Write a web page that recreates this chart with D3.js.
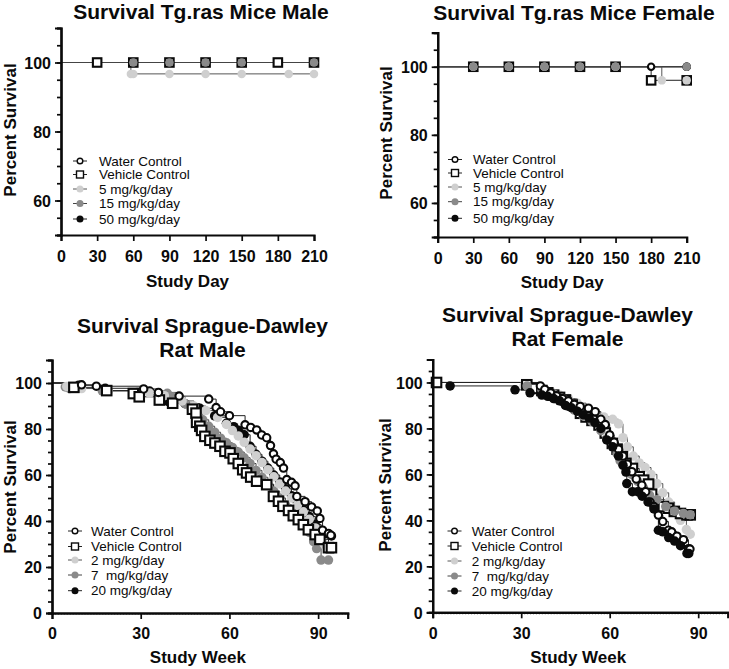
<!DOCTYPE html>
<html><head><meta charset="utf-8">
<script src="https://cdn.jsdelivr.net/npm/d3@7"></script>
<style>body{margin:0;background:#fff} text{font-family:"Liberation Sans",Arial,sans-serif;fill:#0a0a0a}</style>
</head><body><svg id="c" width="729" height="669"></svg>
<script>
// ---------- labels ----------
const miceLabels = ["Water Control","Vehicle Control","5 mg/kg/day","15 mg/kg/day","50 mg/kg/day"];
const ratLabels = ["Water Control","Vehicle Control","2 mg/kg/day","7  mg/kg/day","20 mg/kg/day"];
const miceXTicks = [0,30,60,90,120,150,180,210];
const miceYTicks = [60,80,100];
const ratXTicks = [0,30,60,90];
const ratYTicks = [0,20,40,60,80,100];
const titles = ["Survival Tg.ras Mice Male","Survival Tg.ras Mice Female",
  ["Survival Sprague-Dawley","Rat Male"],["Survival Sprague-Dawley","Rat Female"]];

// ---------- data: [time, percent survival] ----------
const miceMaleWater   = [[0,100],[30,100],[60,100],[90,100],[120,100],[150,100],[180,100],[210,100]];
const miceMaleVehicle = [[0,100],[30,100],[60,100],[90,100],[120,100],[150,100],[180,100],[210,100]];
const miceMale5   = [[0,100],[58,96.7],[60,96.7],[90,96.7],[120,96.7],[150,96.7],[189,96.7],[210,96.7]];
const miceMale15  = [[0,100],[60,100],[90,100],[120,100],[150,100],[210,100]];
const miceMale50  = [[0,100],[60,100],[90,100],[120,100],[150,100],[210,100]];

const miceFemWater   = [[0,100],[30,100],[60,100],[90,100],[120,100],[150,100],[180,100],[210,100]];
const miceFemVehicle = [[0,100],[30,100],[60,100],[90,100],[120,100],[150,100],[180,96],[210,96]];
const miceFem5   = [[0,100],[30,100],[60,100],[90,100],[120,100],[150,100],[189,96],[210,96]];
const miceFem15  = [[0,100],[30,100],[60,100],[90,100],[120,100],[150,100],[210,100]];
const miceFem50  = [[0,100],[30,100],[60,100],[90,100],[120,100],[150,100],[210,100]];

const ratMaleWater = [[0,100],[10,99.2],[15,98.6],[31,97.4],[36,95.9],[43,94.3],[53,93],[55.5,89.3],[57,87.5],[60,85.8],[65.3,81.8],[67.2,80.7],[69.2,79.6],[70.9,77.4],[72.6,76.2],[73.9,72.8],[74.9,69.2],[75.8,66.9],[77.2,65.4],[78.3,63],[79.4,58],[81,56.8],[82.2,55.3],[82.8,50.7],[85.6,48.4],[87.8,46.1],[89.7,44.4],[90.6,41.1],[91.5,36],[93.5,34.6],[94.3,33.8]];
const ratMaleVehicle = [[0,100],[7.4,98.1],[18.5,96.7],[27.5,95.4],[29.5,94],[36.3,92.6],[40.8,91.2],[47.5,88.6],[48.7,86.9],[48.9,82.9],[50,81.2],[50.6,79.4],[51.7,76.8],[53.4,75.1],[55.1,73.9],[56.8,72.5],[58.5,70.3],[60.2,69.6],[61.3,67.1],[63,65],[64.5,62.3],[65.8,60.9],[67.2,59.1],[69.2,57.3],[72.6,55.8],[74.9,50.7],[76.6,48.6],[78.1,46.4],[80,44.6],[81.6,42.3],[83.3,40.6],[85,38.4],[86.7,36.2],[89,34.1],[90.6,32],[93.5,28.4],[94.5,28.4]];
const ratMale2 = [[0,100],[5,98.5],[10,97.6],[19,96.6],[33,95.6],[38,94.5],[44,92.2],[48,90],[52,88],[56,85],[59,82],[61,79.3],[63,77],[65,74.2],[67,71.3],[69,68.4],[71,65.4],[73,62.3],[75,59.2],[77,56.1],[79,53],[81,50],[83,47],[85,44],[87,40.8],[89,37],[90.5,33],[92,30],[93,29]];
const ratMale7 = [[0,100],[4.5,98.3],[6,97.6],[17,96.6],[29,96],[39,95.5],[41,94],[45,91],[47,89.4],[49,87],[51,84],[53,81.2],[55,78.6],[57,76],[59,74],[61,72],[63,70],[65,67.5],[67,65],[69,62],[71,59],[73,56],[75,53],[77,50],[79,47],[81,44.5],[83,42],[85,39],[87,35],[88.5,31],[89.5,28],[91,23],[93.5,23]];
const ratMale20 = [[0,100],[9,99],[18,97.7],[33,96.5],[38,94.5],[39.2,92],[45,91],[50,89],[55,85.7],[59,82.5],[61.5,81],[63,79.5],[65,77.5],[67,72.5],[69,69],[71,66],[73,63],[75,60],[77,57],[79,54],[81,51],[83,48],[85,45],[87,42],[89,38.5],[91,36],[93,34.5],[94.5,33.5]];

const ratFemWater = [[0,100],[36.5,98.5],[38,97],[40,95.5],[42,94.2],[44,93],[46,92],[48,90.5],[50,89.6],[52.8,88.8],[55.1,87.3],[57,84],[58.5,81.7],[60,77.2],[61.5,74],[63,71],[64.5,68],[66,64.5],[67.5,61.2],[69,58],[70.9,55.3],[72.2,52.5],[73.7,48],[75,46],[76.5,42.3],[78,39.5],[79.9,35.7],[81,35],[82.8,33.1],[85,31.6],[86.7,27.7],[87.2,27.5]];
const ratFemVehicle = [[0,100],[1.3,100],[31.9,99],[34.7,97.4],[37,96.5],[39,95.5],[41,94.5],[43,93.5],[45,92.4],[47.3,90.2],[50.1,86.6],[52,85],[54,83.5],[56.4,81.5],[58.5,78],[60.9,73.5],[62.5,71],[64.3,67.7],[65.5,64.8],[67.7,62.6],[70,59],[71.5,57.5],[73.2,55.8],[74.2,51.4],[78.2,46],[79.9,45.3],[81.9,43.9],[84,43],[86.2,42.4],[87.3,42.4]];
const ratFem2 = [[0,100],[31,98.5],[36,97.5],[40,96],[43,94.5],[46,93],[49,91],[52,88.5],[55,86.5],[58,85],[61,84],[63,82],[64.5,76],[66,72],[68,68],[70,65],[72,63],[74,60],[76,56],[78,52],[80,48],[82,44],[84,40],[86,36],[87.3,34]];
const ratFem7 = [[0,100],[32,98.5],[37,97],[41,95],[44,93],[46.5,91],[48,88],[51,85.5],[54,83],[57,79],[59,75.5],[61,72],[62.5,69],[63.5,66],[65.5,63],[67.5,60],[69.5,57],[71.5,54],[73.5,51],[76,49],[79,46],[82,44],[85,43],[87.3,42.5]];
const ratFem20 = [[0,100],[5.9,98.5],[27.9,96.8],[33,95.5],[37,94.5],[39,94],[41,93],[43,92],[45,90],[47,89],[49,87.5],[51,86],[53,84.5],[55,82.5],[57,80],[59,75],[61,72],[63,68],[64.5,64],[65.5,61],[65.8,56],[67.7,52.5],[69.5,52.5],[71,50.5],[73,48],[75,45],[76.5,35.7],[78,35],[80,32.5],[82,31],[84,29],[86.2,25.6],[86.8,25.6]];

// ---------- styles ----------
const styles = {
  water:   {shape:"circle", fill:"#fff", stroke:"#0a0a0a", line:"#222"},
  vehicle: {shape:"square", fill:"#fff", stroke:"#0a0a0a", line:"#222"},
  low:     {shape:"circle", fill:"#cfcfcf", stroke:"#cfcfcf", line:"#555"},
  mid:     {shape:"circle", fill:"#8a8a8a", stroke:"#8a8a8a", line:"#444"},
  high:    {shape:"circle", fill:"#0a0a0a", stroke:"#0a0a0a", line:"#222"}
};

const svg = d3.select("#c");

function marker(g, st, cx, cy, size, sw) {
  if (st.shape === "square") {
    g.append("rect").attr("x", cx - size/2).attr("y", cy - size/2).attr("width", size).attr("height", size)
      .attr("fill", st.fill).attr("stroke", st.stroke).attr("stroke-width", sw);
  } else {
    const open = st.fill === "#fff";
    g.append("circle").attr("cx", cx).attr("cy", cy).attr("r", open ? size/2 - sw/2 : size/2)
      .attr("fill", st.fill).attr("stroke", open ? st.stroke : "none").attr("stroke-width", sw);
  }
}

function panel(cfg) {
  const g = svg.append("g");
  const x = d3.scaleLinear().domain(cfg.xDomain).range([cfg.x0, cfg.x1]);
  const y = d3.scaleLinear().domain(cfg.yDomain).range([cfg.y0, cfg.y1]);

  const tl = Array.isArray(cfg.title) ? cfg.title : [cfg.title];
  tl.forEach((t, i) => g.append("text").attr("x", cfg.tx).attr("y", cfg.ty + i * 24)
    .attr("text-anchor", "middle").attr("font-size", 21).attr("font-weight", "bold").text(t));

  const line = d3.line().x(d => x(d[0])).y(d => y(d[1])).curve(d3.curveStepAfter);
  cfg.series.forEach(s => {
    const st = styles[s.style];
    g.append("path").attr("d", line(s.data)).attr("fill", "none").attr("stroke", st.line).attr("stroke-width", 1);
  });
  cfg.series.forEach(s => {
    const st = styles[s.style];
    const mg = g.append("g");
    s.data.forEach((d, i) => {
      if (i === 0) return;
      marker(mg, st, x(d[0]), y(d[1]), cfg.msize, cfg.msw);
    });
  });

  const yAxisMinor = d3.axisLeft(y).tickValues(d3.range(cfg.yDomain[0], cfg.yDomain[1] + 0.1, 5)).tickSize(4).tickFormat("");
  const yAxis = d3.axisLeft(y).tickValues(cfg.yTicks).tickSize(6).tickPadding(4);
  const ya = g.append("g").attr("transform", `translate(${cfg.x0},0)`);
  ya.call(yAxisMinor);
  const yb = g.append("g").attr("transform", `translate(${cfg.x0},0)`).call(yAxis);
  [ya, yb].forEach(a => {
    a.selectAll(".domain").attr("stroke", "#0a0a0a").attr("stroke-width", 2.2);
    a.selectAll(".tick line").attr("stroke", "#0a0a0a").attr("stroke-width", 1.7);
  });
  yb.selectAll("text").attr("font-size", 16).attr("font-weight", "bold").attr("fill", "#0a0a0a")
    .attr("font-family", "Liberation Sans, Arial, sans-serif").attr("dy", "0.36em");

  if (cfg.xMinor) {
    const xm = g.append("g").attr("transform", `translate(0,${cfg.y0})`)
      .call(d3.axisBottom(x).tickValues(d3.range(cfg.xDomain[0], cfg.xDomain[1] + 0.1, cfg.xMinor)).tickSize(2).tickFormat(""));
    xm.selectAll(".domain").attr("stroke", "#0a0a0a").attr("stroke-width", 2.2);
    xm.selectAll(".tick line").attr("stroke", "#555").attr("stroke-width", 1);
  }
  const xa = g.append("g").attr("transform", `translate(0,${cfg.y0})`);
  xa.call(d3.axisBottom(x).tickValues(cfg.xTicks).tickSize(6).tickPadding(cfg.xPad));
  xa.selectAll(".domain").attr("stroke", "#0a0a0a").attr("stroke-width", 2.2);
  xa.selectAll(".tick line").attr("stroke", "#0a0a0a").attr("stroke-width", 1.7);
  xa.selectAll("text").attr("font-size", 16).attr("font-weight", "bold").attr("fill", "#0a0a0a")
    .attr("font-family", "Liberation Sans, Arial, sans-serif");

  g.append("text").attr("x", (cfg.x0 + cfg.x1) / 2 + (cfg.xtOff || 0)).attr("y", cfg.xty)
    .attr("text-anchor", "middle").attr("font-size", 17).attr("font-weight", "bold").text(cfg.xTitle);
  g.append("text").attr("transform", `translate(${cfg.ytx},${cfg.yty}) rotate(-90)`)
    .attr("text-anchor", "middle").attr("font-size", 17).attr("font-weight", "bold").text("Percent Survival");

  cfg.series.slice().sort((a, b) => a.order - b.order).forEach((s, i) => {
    const st = styles[s.style];
    const cy = cfg.legY[i];
    g.append("line").attr("x1", cfg.legX - 7).attr("x2", cfg.legX + 7).attr("y1", cy).attr("y2", cy)
      .attr("stroke", st.line).attr("stroke-width", 1);
    marker(g, st, cfg.legX, cy, 7, 1.4);
    g.append("text").attr("x", cfg.legTX).attr("y", cy).attr("dy", "0.35em").attr("font-size", 13.5)
      .style("white-space", "pre").text(s.label);
  });
}

const mk = (labels, datas, order) => order.map(i => ({label: labels[i], data: datas[i], style: ["water","vehicle","low","mid","high"][i], order: i}));

panel({title: titles[0], tx: 201, ty: 19, xDomain: [0,210], yDomain: [50,110], x0: 61, x1: 314, y0: 235, y1: 28,
  xTicks: miceXTicks, yTicks: miceYTicks, xPad: 10, xTitle: "Study Day", xty: 287, ytx: 16, yty: 130,
  msize: 8.5, msw: 2.1, legX: 80, legTX: 99, legY: [161,174.5,189,203.5,219],
  series: mk(miceLabels, [miceMaleWater, miceMaleVehicle, miceMale5, miceMale15, miceMale50], [4,0,1,2,3])});

panel({title: titles[1], tx: 574, ty: 20, xDomain: [0,210], yDomain: [50,110], x0: 437.7, x1: 686.7, y0: 237, y1: 32.7,
  xTicks: miceXTicks, yTicks: miceYTicks, xPad: 10, xTitle: "Study Day", xty: 288, ytx: 392, yty: 133,
  msize: 8.5, msw: 2.1, legX: 455, legTX: 473, legY: [159.5,173,187,201.7,218.3],
  series: mk(miceLabels, [miceFemWater, miceFemVehicle, miceFem5, miceFem15, miceFem50], [4,0,1,2,3])});

panel({title: titles[2], tx: 202.5, ty: 333, xDomain: [0,100], yDomain: [0,110], x0: 52, x1: 347.7, y0: 613, y1: 360,
  xTicks: ratXTicks, yTicks: ratYTicks, xMinor: 1, xPad: 9, xTitle: "Study Week", xtOff: -2, xty: 663, ytx: 16, yty: 487,
  msize: 9.5, msw: 2.1, legX: 75, legTX: 91, legY: [531,546.5,560,575,590.7],
  series: mk(ratLabels, [ratMaleWater, ratMaleVehicle, ratMale2, ratMale7, ratMale20], [4,3,2,1,0])});

panel({title: titles[3], tx: 567.5, ty: 322, xDomain: [0,100], yDomain: [0,110], x0: 432.7, x1: 727.7, y0: 612.3, y1: 359.5,
  xTicks: ratXTicks, yTicks: ratYTicks, xMinor: 1, xPad: 9, xTitle: "Study Week", xtOff: -2, xty: 663, ytx: 391, yty: 485,
  msize: 9.5, msw: 2.1, legX: 454.5, legTX: 471.7, legY: [531,546,561,576,591],
  series: mk(ratLabels, [ratFemWater, ratFemVehicle, ratFem2, ratFem7, ratFem20], [2,1,3,0,4])});
</script></body></html>
